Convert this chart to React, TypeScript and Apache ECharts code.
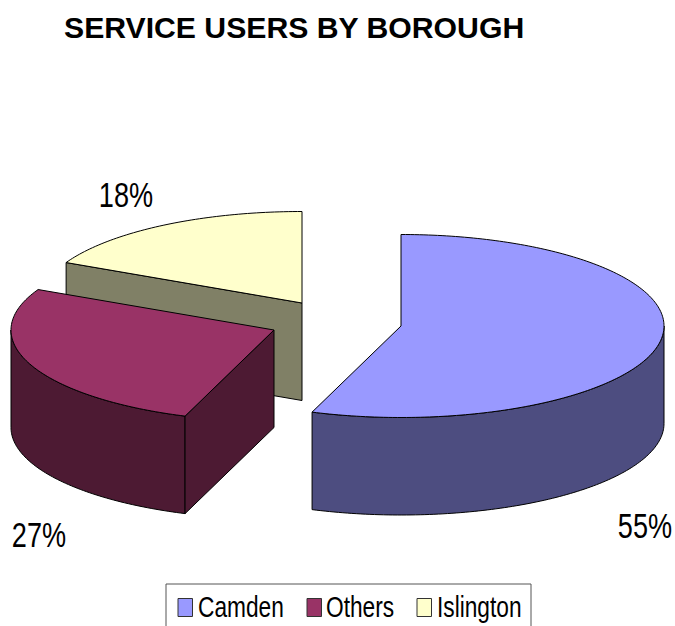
import React, { useEffect, useRef } from "react";
import * as echarts from "echarts";

const titleText = "SERVICE USERS BY BOROUGH";
const categories = ["Camden", "Others", "Islington"];
const values = [55.49, 26.8, 17.71];
const topColors = ["#9999FF", "#993366", "#FFFFCC"];
const sideColors = ["#4D4D80", "#4D1A33", "#808066"];

const RX = 263;
const RY = 91.5;
const DEPTH = 97.5;
const CENTERS = [
  [401, 326],
  [274, 330],
  [302, 303],
];
const LABEL_POS = [
  [645, 526],
  [39, 535],
  [126, 195],
];
const LEGEND_ICON_X = [178, 307, 417];
const LEGEND_TEXT_X = [198, 326, 437];
const Z = [3, 4, 2];
const SANS = '"Liberation Sans", Arial, sans-serif';
const SQUEEZE = 0.757;

const total = values.reduce((a, b) => a + b, 0);

function arcPoints(cx: number, cy: number, a0: number, a1: number, dy = 0) {
  const pts: number[][] = [];
  const n = Math.max(2, Math.ceil(Math.abs(a1 - a0)));
  for (let i = 0; i <= n; i++) {
    const a = ((a0 + ((a1 - a0) * i) / n) * Math.PI) / 180;
    pts.push([cx + RX * Math.sin(a), cy - RY * Math.cos(a) + dy]);
  }
  return pts;
}

function makeRender(index: number) {
  return (_params: any, api: any) => {
    const value = api.value(0) as number;
    const before = values.slice(0, index).reduce((a, b) => a + b, 0);
    const a0 = (before / total) * 360;
    const a1 = a0 + (value / total) * 360;
    const [cx, cy] = CENTERS[index];
    const stroke = { stroke: "#000", lineWidth: 1, lineJoin: "round" };
    const children: any[] = [];
    const side = { ...stroke, fill: sideColors[index] };

    // outer wall: only the part facing the viewer (90deg..270deg)
    const v0 = Math.max(a0, 90);
    const v1 = Math.min(a1, 270);
    if (v1 > v0) {
      const upper = arcPoints(cx, cy, v0, v1);
      const lower = arcPoints(cx, cy, v0, v1, DEPTH).reverse();
      children.push({ type: "polygon", shape: { points: [...upper, ...lower] }, style: side });
    }
    // cut face at the slice's starting angle, turned to the viewer
    if (index !== 0) {
      const rim = arcPoints(cx, cy, a0, a0)[0];
      children.push({
        type: "polygon",
        shape: {
          points: [
            [cx, cy],
            rim,
            [rim[0], rim[1] + DEPTH],
            [cx, cy + DEPTH],
          ],
        },
        style: side,
      });
    }
    // top face
    children.push({
      type: "polygon",
      shape: { points: [[cx, cy], ...arcPoints(cx, cy, a0, a1)] },
      style: { ...stroke, fill: topColors[index] },
    });
    // value label
    children.push({
      type: "text",
      x: LABEL_POS[index][0],
      y: LABEL_POS[index][1],
      scaleX: 0.775,
      style: {
        text: `${Math.round(value)}%`,
        align: "center",
        verticalAlign: "middle",
        fill: "#000",
        font: `35px ${SANS}`,
      },
    });
    return { type: "group", children };
  };
}

export default function App() {
  const ref = useRef<HTMLDivElement>(null);
  useEffect(() => {
    document.body.style.margin = "0";
    const chart = echarts.init(ref.current!, undefined, { renderer: "svg" });
    chart.setOption({
      animation: false,
      backgroundColor: "#fff",
      title: {
        text: titleText,
        left: 64,
        top: 12,
        padding: 0,
        textStyle: { fontFamily: SANS, fontWeight: "bold", fontSize: 30.2, color: "#000" },
      },
      graphic: [
        {
          type: "rect",
          shape: { x: 166, y: 584, width: 365, height: 60 },
          style: { fill: "#fff", stroke: "#555", lineWidth: 1 },
        },
        ...categories.flatMap((name, i) => [
          {
            type: "rect",
            shape: { x: LEGEND_ICON_X[i], y: 598.5, width: 14.5, height: 18 },
            style: { fill: topColors[i], stroke: "#333", lineWidth: 1 },
          },
          {
            type: "text",
            x: LEGEND_TEXT_X[i],
            y: 606.5,
            scaleX: SQUEEZE,
            style: {
              text: name,
              align: "left",
              verticalAlign: "middle",
              fill: "#000",
              font: `30px ${SANS}`,
            },
          },
        ]),
      ],
      series: categories.map((name, i) => ({
        type: "custom",
        name,
        coordinateSystem: "none",
        z: Z[i],
        itemStyle: { color: topColors[i] },
        data: [[values[i]]],
        renderItem: makeRender(i),
      })),
    });
    return () => chart.dispose();
  }, []);
  return <div ref={ref} style={{ width: 675, height: 626 }} />;
}
